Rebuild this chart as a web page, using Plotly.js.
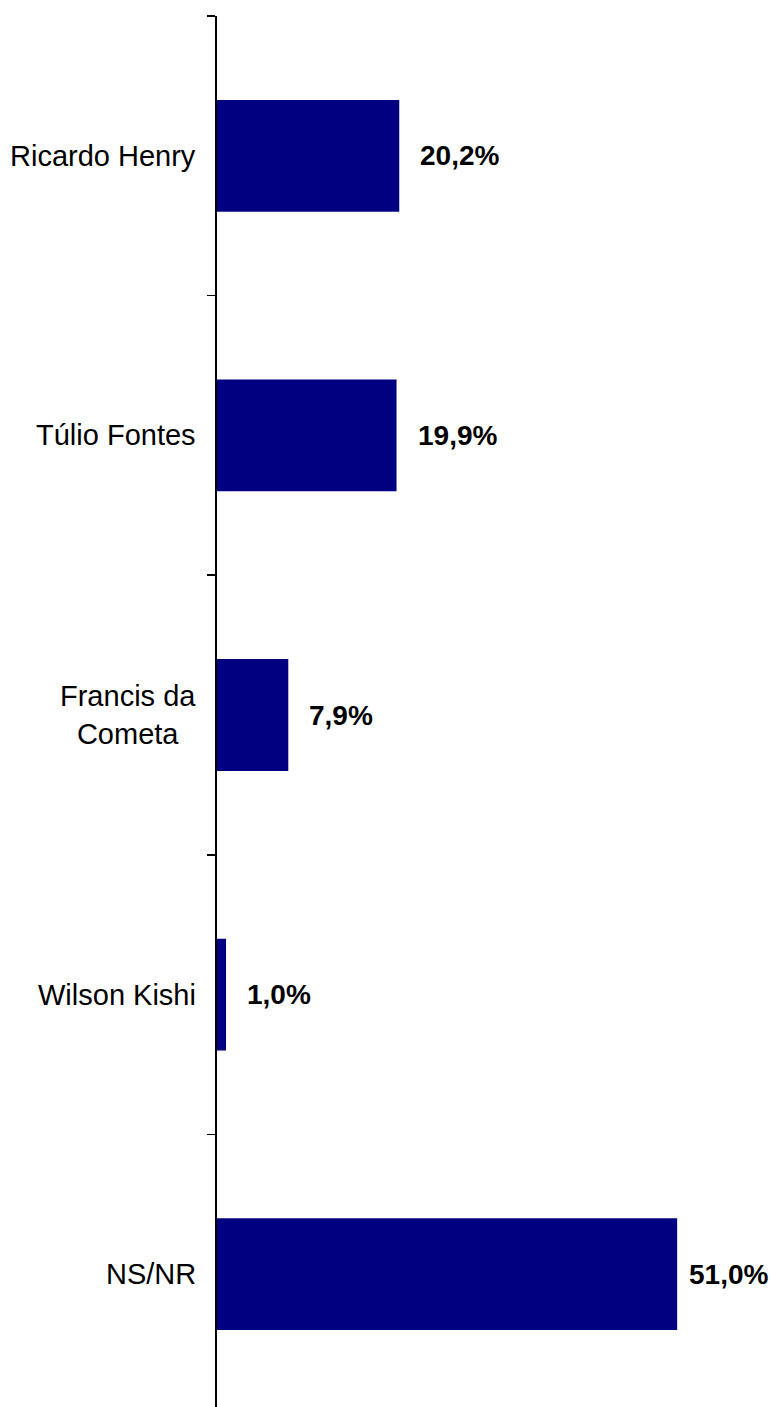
<!DOCTYPE html>
<html>
<head>
<meta charset="utf-8">
<script src="https://cdn.plot.ly/plotly-3.0.1.min.js"></script>
<style>
html,body{margin:0;padding:0;overflow:hidden;background:#fff;}
#chart{width:771px;height:1414px;}
</style>
</head>
<body>
<div id="chart"></div>
<script>
// Data
const categories = ["Ricardo Henry", "Túlio Fontes", "Francis da<br>Cometa", "Wilson Kishi", "NS/NR"];
const values = [20.2, 19.9, 7.9, 1.0, 51.0];
const valueLabels = ["20,2%", "19,9%", "7,9%", "1,0%", "51,0%"];

const FONT = "Liberation Sans, Arial, sans-serif";
const marginL = 217;
const plotW = 771 - marginL;
const xMax = 61.4;
const pxPerUnit = plotW / xMax;

const annotations = [];
categories.forEach((c, i) => {
  annotations.push({
    x: 0, xref: 'paper', y: c, yref: 'y',
    text: c, showarrow: false, xanchor: 'right', yanchor: 'middle',
    align: 'center', xshift: -19,
    font: {family: FONT, size: 29, color: '#000'}
  });
  const barEnd = marginL + values[i] * pxPerUnit;
  const shift = Math.min(19, 767 - 80 - barEnd);
  annotations.push({
    x: values[i], xref: 'x', y: c, yref: 'y',
    text: '<b>' + valueLabels[i] + '</b>', showarrow: false,
    xanchor: 'left', yanchor: 'middle', xshift: shift,
    font: {family: FONT, size: 28, color: '#000'}
  });
});

const trace = {
  type: 'bar', orientation: 'h',
  x: values, y: categories,
  marker: {color: '#000080', line: {width: 0}},
  hoverinfo: 'none'
};

const layout = {
  width: 771, height: 1414,
  margin: {l: marginL, r: 0, t: 16, b: 0, pad: 0},
  paper_bgcolor: '#fff', plot_bgcolor: '#fff',
  showlegend: false,
  bargap: 0.6,
  xaxis: {range: [0, xMax], visible: false, fixedrange: true},
  yaxis: {
    type: 'category', autorange: 'reversed',
    showticklabels: false,
    showline: true, linecolor: '#000', linewidth: 2,
    ticks: 'outside', ticklen: 8, tickwidth: 1.5, tickcolor: '#000',
    tickson: 'boundaries', showgrid: false, zeroline: false,
    fixedrange: true
  },
  annotations: annotations,
  font: {family: FONT, size: 28, color: '#000'}
};

Plotly.newPlot('chart', [trace], layout, {staticPlot: true, displayModeBar: false});
</script>
</body>
</html>
